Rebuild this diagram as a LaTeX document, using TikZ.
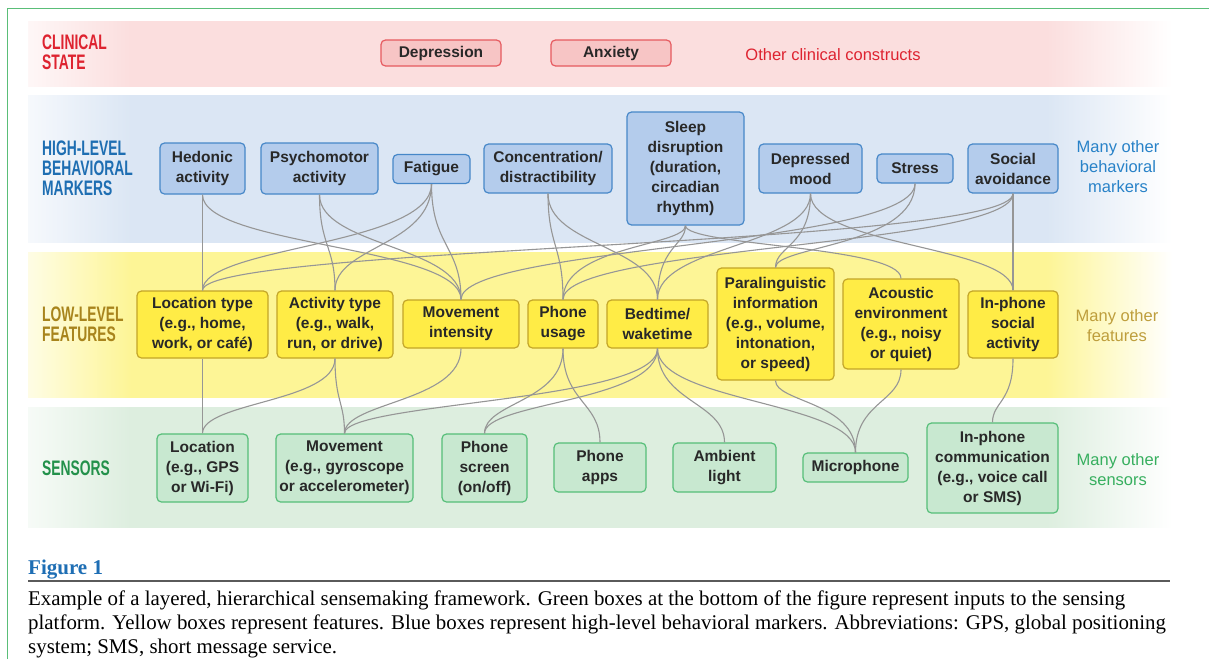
\documentclass[tikz,border=0pt]{standalone}
\usepackage{fontspec}
\setmainfont{Liberation Sans}
\newfontfamily\condfont[FakeStretch=0.66]{Liberation Sans}
\newfontfamily\seriffont{Liberation Serif}
\definecolor{redlab}{RGB}{222,35,48}
\definecolor{bluelab}{RGB}{30,110,178}
\definecolor{bluelab2}{RGB}{40,130,200}
\definecolor{goldlab}{RGB}{168,132,28}
\definecolor{goldlab2}{RGB}{190,158,60}
\definecolor{greenlab}{RGB}{35,145,75}
\definecolor{greenlab2}{RGB}{55,175,95}
\definecolor{redband}{RGB}{251,222,222}
\definecolor{blueband}{RGB}{219,230,244}
\definecolor{yellowband}{RGB}{253,245,150}
\definecolor{greenband}{RGB}{221,238,223}
\definecolor{rfill}{RGB}{247,197,197}
\definecolor{rdraw}{RGB}{230,90,95}
\definecolor{bfill}{RGB}{180,204,236}
\definecolor{bdraw}{RGB}{70,135,200}
\definecolor{yfill}{RGB}{255,236,70}
\definecolor{ydraw}{RGB}{195,165,40}
\definecolor{gfill}{RGB}{200,232,208}
\definecolor{gdraw}{RGB}{85,190,120}
\definecolor{conncol}{RGB}{150,150,150}
\definecolor{txt}{RGB}{40,40,40}
\definecolor{figblue}{RGB}{30,110,180}
\definecolor{rulegray}{RGB}{90,90,90}
\definecolor{framegreen}{RGB}{90,190,120}
\newcommand\mkshade[1]{\pgfdeclarehorizontalshading{sh#1}{100bp}{color(0bp)=(#1!25); color(25bp)=(#1!25); color(29.5bp)=(#1); color(69.5bp)=(#1); color(75bp)=(white); color(100bp)=(white)}}
\mkshade{redband}
\mkshade{blueband}
\mkshade{yellowband}
\mkshade{greenband}
\newcommand\bxfont{\fontsize{15.5}{20}\selectfont\bfseries}
\newcommand\myband[3]{\shade[shading=sh#1] (28,#2) rectangle (1172,#3);}
\newcommand\lnk[3]{\draw[conn] (#1.south) .. controls (#1.south |- #3) and (#2.north |- #3) .. (#2.north);}
\begin{document}
\begin{tikzpicture}[x=1pt,y=-1pt,
  box/.style={draw, rounded corners=4.5pt, line width=1.2pt, align=center, inner sep=0pt, text=txt, font=\bxfont},
  rbox/.style={box, fill=rfill, draw=rdraw},
  bbox/.style={box, fill=bfill, draw=bdraw},
  ybox/.style={box, fill=yfill, draw=ydraw},
  gbox/.style={box, fill=gfill, draw=gdraw},
  lab/.style={anchor=west, align=left, inner sep=0pt, font=\condfont\bfseries\fontsize{21}{20}\selectfont},
  rlab/.style={align=center, inner sep=0pt, font=\fontsize{16.5}{20}\selectfont},
  conn/.style={draw=conncol, line width=1.1pt},
  capline/.style={anchor=base west, inner sep=0pt, font=\seriffont\fontsize{20.9}{24}\selectfont, text=black}]
\useasboundingbox (0,0) rectangle (1209,659);
\fill[white] (0,0) rectangle (1209,659);
\draw[framegreen, line width=1pt] (7,659) -- (7,8) -- (1209,8);
% bands
\myband{redband}{21}{86}
\myband{blueband}{95}{242}
\myband{yellowband}{252}{397}
\myband{greenband}{407}{527}
\coordinate (m1) at (0,246);
\coordinate (m2) at (0,402);
% side labels
\node[lab, text=redlab] (lcs) at (42,52) {CLINICAL\\STATE};
\node[lab, text=bluelab] (lhb) at (42,168) {HIGH-LEVEL\\BEHAVIORAL\\MARKERS};
\node[lab, text=goldlab] (llf) at (42,324) {LOW-LEVEL\\FEATURES};
\node[lab, text=greenlab] (lse) at (42,468) {SENSORS};
% clinical
\node[rbox, minimum width=120pt, minimum height=26pt] (dep) at (441,53) {Depression};
\node[rbox, minimum width=120pt, minimum height=26pt] (anx) at (611,53) {Anxiety};
\node[rlab, text=redlab] (ocl) at (833,55) {Other clinical constructs};
% high level
\node[bbox, minimum width=85pt, minimum height=51pt] (hed) at (202.5,168.5) {Hedonic\\activity};
\node[bbox, minimum width=117pt, minimum height=51pt] (psy) at (319.5,168.5) {Psychomotor\\activity};
\node[bbox, minimum width=77pt, minimum height=29pt] (fat) at (431.5,169) {Fatigue};
\node[bbox, minimum width=128pt, minimum height=49pt] (con) at (548,168.5) {Concentration/\\distractibility};
\node[bbox, minimum width=117pt, minimum height=113pt] (slp) at (685.5,168.5) {Sleep\\disruption\\(duration,\\circadian\\rhythm)};
\node[bbox, minimum width=103pt, minimum height=49pt] (dmo) at (810.5,168.5) {Depressed\\mood};
\node[bbox, minimum width=76pt, minimum height=29pt] (str) at (915,168.5) {Stress};
\node[bbox, minimum width=90pt, minimum height=49pt] (soc) at (1013,168.5) {Social\\avoidance};
\node[rlab, text=bluelab2] (obm) at (1118,167) {Many other\\behavioral\\markers};
% low level
\node[ybox, minimum width=131pt, minimum height=67pt] (loc) at (202.5,324.5) {Location type\\(e.g., home,\\work, or café)};
\node[ybox, minimum width=116pt, minimum height=67pt] (act) at (335,324.5) {Activity type\\(e.g., walk,\\run, or drive)};
\node[ybox, minimum width=116pt, minimum height=48pt] (mvi) at (461,324) {Movement\\intensity};
\node[ybox, minimum width=70pt, minimum height=48pt] (phu) at (563,324) {Phone\\usage};
\node[ybox, minimum width=101pt, minimum height=48pt] (bed) at (657.5,324) {Bedtime/\\waketime};
\node[ybox, minimum width=117pt, minimum height=112pt] (par) at (775.5,324) {Paralinguistic\\information\\(e.g., volume,\\intonation,\\or speed)};
\node[ybox, minimum width=116pt, minimum height=90pt] (aco) at (901,324) {Acoustic\\environment\\(e.g., noisy\\or quiet)};
\node[ybox, minimum width=90pt, minimum height=67pt] (ips) at (1013,324.5) {In-phone\\social\\activity};
\node[rlab, text=goldlab2] (ofe) at (1117,326) {Many other\\features};
% sensors
\node[gbox, minimum width=91pt, minimum height=68pt] (gloc) at (202.5,468) {Location\\(e.g., GPS\\or Wi-Fi)};
\node[gbox, minimum width=137pt, minimum height=68pt] (gmov) at (344.5,468) {Movement\\(e.g., gyroscope\\or accelerometer)};
\node[gbox, minimum width=85pt, minimum height=68pt] (gscr) at (484.5,468) {Phone\\screen\\(on/off)};
\node[gbox, minimum width=92pt, minimum height=49pt] (gapp) at (600,467.5) {Phone\\apps};
\node[gbox, minimum width=103pt, minimum height=49pt] (gamb) at (724.5,467.5) {Ambient\\light};
\node[gbox, minimum width=105pt, minimum height=29pt] (gmic) at (855.5,467.5) {Microphone};
\node[gbox, minimum width=131pt, minimum height=90pt] (gcom) at (992.5,468) {In-phone\\communication\\(e.g., voice call\\or SMS)};
\node[rlab, text=greenlab2] (ose) at (1118,470) {Many other\\sensors};
% connectors high -> low
\lnk{hed}{loc}{m1}
\lnk{hed}{mvi}{m1}
\lnk{psy}{act}{m1}
\lnk{psy}{mvi}{m1}
\lnk{fat}{loc}{m1}
\lnk{fat}{act}{m1}
\lnk{fat}{mvi}{m1}
\lnk{con}{phu}{m1}
\lnk{con}{bed}{m1}
\lnk{slp}{phu}{m1}
\lnk{slp}{bed}{m1}
\lnk{slp}{aco}{m1}
\lnk{dmo}{bed}{m1}
\lnk{dmo}{par}{m1}
\lnk{dmo}{ips}{m1}
\lnk{str}{par}{m1}
\lnk{str}{mvi}{m1}
\lnk{soc}{loc}{m1}
\lnk{soc}{phu}{m1}
\lnk{soc}{ips}{m1}
% connectors low -> sensors
\lnk{loc}{gloc}{m2}
\lnk{act}{gloc}{m2}
\lnk{act}{gmov}{m2}
\lnk{mvi}{gmov}{m2}
\lnk{bed}{gmov}{m2}
\lnk{phu}{gscr}{m2}
\lnk{bed}{gscr}{m2}
\lnk{phu}{gapp}{m2}
\lnk{bed}{gamb}{m2}
\lnk{bed}{gmic}{m2}
\lnk{par}{gmic}{m2}
\lnk{aco}{gmic}{m2}
\lnk{ips}{gcom}{m2}
% caption
\node[anchor=base west, inner sep=0pt, font=\seriffont\bfseries\fontsize{21}{24}\selectfont, text=figblue] (fig) at (28,574) {Figure 1};
\draw[rulegray, line width=1.5pt] (28,581) -- (1170,581);
\node[capline] (c1) at (28,605) {Example of a layered, hierarchical sensemaking framework. Green boxes at the bottom of the figure represent inputs to the sensing};
\node[capline] (c2) at (28,629) {platform. Yellow boxes represent features. Blue boxes represent high-level behavioral markers. Abbreviations: GPS, global positioning};
\node[capline] (c3) at (28,653) {system; SMS, short message service.};
\end{tikzpicture}
\end{document}
